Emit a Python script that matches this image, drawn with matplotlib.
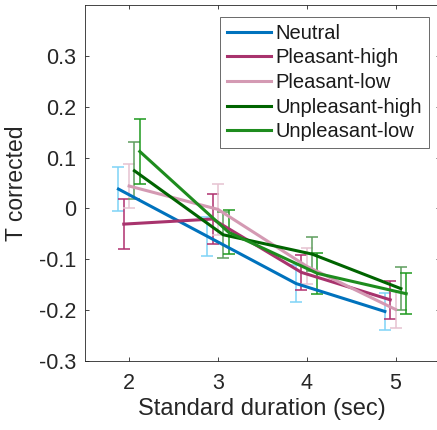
import numpy as np
import matplotlib
matplotlib.use('Agg')
from matplotlib import pyplot as plt

# durations and per-condition x offsets
durations = [2, 3, 4, 5]
conditions = ['Neutral', 'Pleasant-high', 'Pleasant-low', 'Unpleasant-high', 'Unpleasant-low']
offsets = [-0.12, -0.06, 0.0, 0.06, 0.12]

# mean T corrected
neutral = [0.038, -0.055, -0.148, -0.203]
pleasant_high = [-0.031, -0.021, -0.126, -0.180]
pleasant_low = [0.044, -0.002, -0.114, -0.199]
unpleasant_high = [0.074, -0.052, -0.090, -0.158]
unpleasant_low = [0.112, -0.047, -0.128, -0.168]

# standard errors
neutral_err = [0.044, 0.038, 0.036, 0.036]
pleasant_high_err = [0.049, 0.049, 0.035, 0.037]
pleasant_low_err = [0.043, 0.050, 0.035, 0.036]
unpleasant_high_err = [0.056, 0.045, 0.033, 0.042]
unpleasant_low_err = [0.064, 0.043, 0.040, 0.040]

means = [neutral, pleasant_high, pleasant_low, unpleasant_high, unpleasant_low]
errs = [neutral_err, pleasant_high_err, pleasant_low_err, unpleasant_high_err, unpleasant_low_err]

line_colors = ['#0072BD', '#A8336D', '#D49AB3', '#006400', '#1E8C1E']
err_colors = ['#7FD3F7', '#B0306F', '#E6C2D1', '#5E9E5E', '#1E9A1E']

plt.rcParams['font.family'] = ['Liberation Sans', 'DejaVu Sans']

fig = plt.figure(figsize=(4.37, 4.30), dpi=100)
# the right edge of the axes runs just past the figure, as in the original export
ax = fig.add_axes([0.1938, 0.161, 0.813, 0.827])

for i, name in enumerate(conditions):
    x = np.array(durations) + offsets[i]
    ax.errorbar(x, means[i], yerr=errs[i], fmt='none', ecolor=err_colors[i],
                elinewidth=1.1, capsize=4, capthick=1.1, zorder=2)
for i, name in enumerate(conditions):
    x = np.array(durations) + offsets[i]
    ax.plot(x, means[i], color=line_colors[i], lw=2.2, label=name, zorder=3)

ax.set_xlim(1.5, 5.5)
ax.set_ylim(-0.3, 0.4)
ax.set_xticks(durations)
ax.set_yticks([-0.3, -0.2, -0.1, 0, 0.1, 0.2, 0.3])
ax.set_yticklabels(['-0.3', '-0.2', '-0.1', '0', '0.1', '0.2', '0.3'])
ax.tick_params(direction='in', top=True, right=True, length=3, width=0.6,
               labelsize=15.5, colors='#262626')
ax.tick_params(axis='x', pad=8.5)
ax.tick_params(axis='y', pad=6)
for s in ax.spines.values():
    s.set_linewidth(0.6)
    s.set_color('#262626')

ax.set_xlabel('Standard duration (sec)', fontsize=17, color='#262626', labelpad=3)
ax.set_ylabel('T corrected', fontsize=16.5, color='#262626', labelpad=8)

leg = ax.legend(loc='upper right', bbox_to_anchor=(429.3 / 437, 413.3 / 430),
                bbox_transform=fig.transFigure, fontsize=14.5, frameon=True,
                fancybox=False, edgecolor='#262626', handlelength=2.15,
                handletextpad=0.25, labelspacing=0.28, borderpad=0.35,
                borderaxespad=0)
leg.get_frame().set_linewidth(0.6)
for t in leg.get_texts():
    t.set_color('#1a1a1a')

fig.savefig('out.png', dpi=100)
